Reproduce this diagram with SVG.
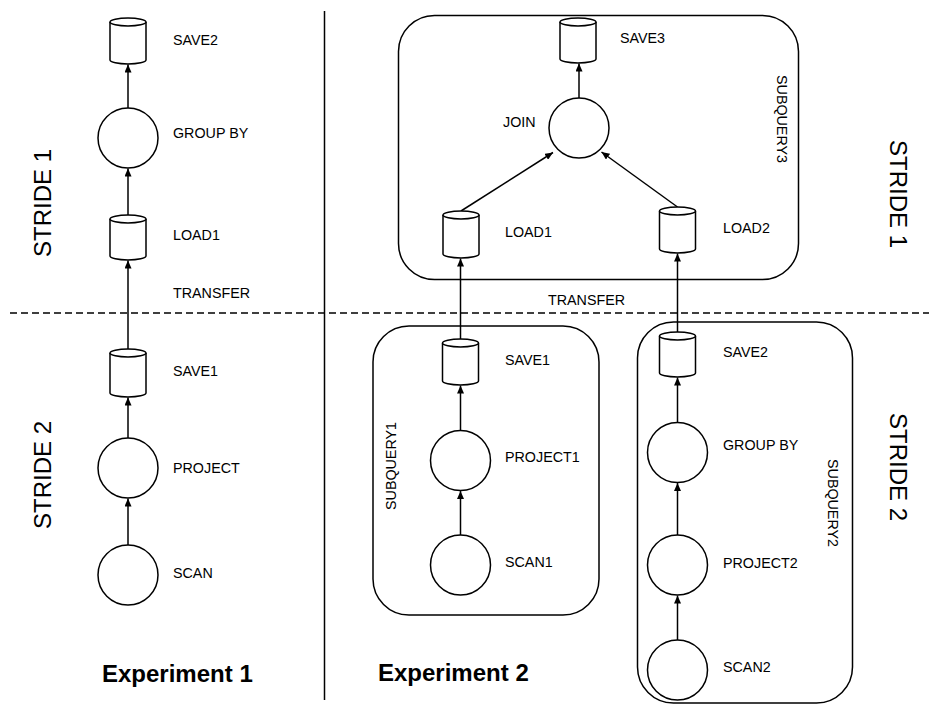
<svg xmlns="http://www.w3.org/2000/svg" width="929" height="705" viewBox="0 0 929 705">
<defs>
<marker id="ah" markerUnits="userSpaceOnUse" markerWidth="9" markerHeight="7" refX="8" refY="3.5" orient="auto">
<path d="M0,0 L8,3.5 L0,7 Z" fill="#000"/>
</marker>
<style>
.s{fill:#fff;stroke:#000;stroke-width:1.5}
.grp{fill:none;stroke:#000;stroke-width:1.5}
.e{stroke:#000;stroke-width:1.5;fill:none;marker-end:url(#ah)}
.t{font-family:"Liberation Sans",Arial,sans-serif;font-size:14.3px;fill:#000}
.big{font-family:"Liberation Sans",Arial,sans-serif;font-size:24px;fill:#000}
.ex{font-family:"Liberation Sans",Arial,sans-serif;font-size:24px;font-weight:bold;fill:#000}
</style>
</defs>
<rect width="929" height="705" fill="#fff"/>

<g id="dividers">
<line x1="324.5" y1="11" x2="324.5" y2="700" stroke="#000" stroke-width="1.5"/>
<line x1="10" y1="313" x2="929" y2="313" stroke="#000" stroke-width="1.5" stroke-dasharray="7 4"/>
</g>

<g id="stride-labels">
<text class="big" transform="translate(51,203) rotate(-90)" text-anchor="middle">STRIDE 1</text>
<text class="big" transform="translate(51,475) rotate(-90)" text-anchor="middle">STRIDE 2</text>
<text class="big" transform="translate(890,194) rotate(90)" text-anchor="middle">STRIDE 1</text>
<text class="big" transform="translate(890,467) rotate(90)" text-anchor="middle">STRIDE 2</text>
<text class="t" x="173" y="298">TRANSFER</text>
<text class="t" x="548" y="305">TRANSFER</text>
<text class="ex" x="102" y="682">Experiment 1</text>
<text class="ex" x="378" y="681">Experiment 2</text>
</g>

<g id="subquery3">
<rect class="grp" x="398.5" y="15.5" width="400" height="264" rx="36"/>
<text class="t" transform="translate(777,119) rotate(90)" text-anchor="middle">SUBQUERY3</text>
</g>
<g id="subquery1">
<rect class="grp" x="373" y="326" width="226" height="289" rx="36"/>
<text class="t" transform="translate(396,466) rotate(-90)" text-anchor="middle">SUBQUERY1</text>
</g>
<g id="subquery2">
<rect class="grp" x="637.5" y="322" width="215" height="381" rx="36"/>
<text class="t" transform="translate(828,503) rotate(90)" text-anchor="middle">SUBQUERY2</text>
</g>

<g id="connectors">
<line class="e" x1="128" y1="108" x2="128" y2="64.5"/>
<line class="e" x1="128" y1="215" x2="128" y2="168.5"/>
<line class="e" x1="128" y1="349" x2="128" y2="260.5"/>
<line class="e" x1="128" y1="438" x2="128" y2="397.5"/>
<line class="e" x1="128" y1="545" x2="128" y2="498.5"/>

<line class="e" x1="579" y1="98" x2="579" y2="63.5"/>
<line class="e" x1="461" y1="211" x2="553" y2="152.5"/>
<line class="e" x1="677.5" y1="207" x2="601.5" y2="152"/>
<line class="e" x1="460.5" y1="339" x2="460.5" y2="258.5"/>
<line class="e" x1="677.5" y1="332" x2="677.5" y2="253.5"/>
<line class="e" x1="460.5" y1="430.5" x2="460.5" y2="385.5"/>
<line class="e" x1="460.5" y1="535" x2="460.5" y2="491"/>
<line class="e" x1="677.5" y1="422.5" x2="677.5" y2="377.5"/>
<line class="e" x1="677.5" y1="535" x2="677.5" y2="483"/>
<line class="e" x1="677.5" y1="640" x2="677.5" y2="595.5"/>
</g>

<g id="e1-save2">
<path class="s" d="M110,22 L110,60 A18,4 0 0 0 146,60 L146,22"/>
<ellipse class="s" cx="128" cy="22" rx="18" ry="4"/>
<text class="t" x="173" y="45">SAVE2</text>
</g>
<g id="e1-groupby">
<circle class="s" cx="128" cy="138" r="30"/>
<text class="t" x="173" y="138">GROUP BY</text>
</g>
<g id="e1-load1">
<path class="s" d="M110,219 L110,256 A18,4 0 0 0 146,256 L146,219"/>
<ellipse class="s" cx="128" cy="219" rx="18" ry="4"/>
<text class="t" x="173" y="240">LOAD1</text>
</g>
<g id="e1-save1">
<path class="s" d="M110,353 L110,393 A18,4 0 0 0 146,393 L146,353"/>
<ellipse class="s" cx="128" cy="353" rx="18" ry="4"/>
<text class="t" x="173" y="376">SAVE1</text>
</g>
<g id="e1-project">
<circle class="s" cx="128" cy="468" r="30"/>
<text class="t" x="173" y="473">PROJECT</text>
</g>
<g id="e1-scan">
<circle class="s" cx="128" cy="575" r="30"/>
<text class="t" x="173" y="578">SCAN</text>
</g>

<g id="e2-save3">
<path class="s" d="M560,22 L560,59 A18,4 0 0 0 596,59 L596,22"/>
<ellipse class="s" cx="578" cy="22" rx="18" ry="4"/>
<text class="t" x="620" y="43">SAVE3</text>
</g>
<g id="e2-join">
<circle class="s" cx="579" cy="128" r="30"/>
<text class="t" x="503" y="127">JOIN</text>
</g>
<g id="e2-load1">
<path class="s" d="M443,215 L443,254 A18,4 0 0 0 479,254 L479,215"/>
<ellipse class="s" cx="461" cy="215" rx="18" ry="4"/>
<text class="t" x="505" y="237">LOAD1</text>
</g>
<g id="e2-load2">
<path class="s" d="M659.5,211 L659.5,249 A18,4 0 0 0 695.5,249 L695.5,211"/>
<ellipse class="s" cx="677.5" cy="211" rx="18" ry="4"/>
<text class="t" x="723" y="233">LOAD2</text>
</g>
<g id="e2-save1">
<path class="s" d="M442.5,343 L442.5,381 A18,4 0 0 0 478.5,381 L478.5,343"/>
<ellipse class="s" cx="460.5" cy="343" rx="18" ry="4"/>
<text class="t" x="505" y="365">SAVE1</text>
</g>
<g id="e2-project1">
<circle class="s" cx="460.5" cy="460.5" r="30"/>
<text class="t" x="505" y="462">PROJECT1</text>
</g>
<g id="e2-scan1">
<circle class="s" cx="460.5" cy="565" r="30"/>
<text class="t" x="505" y="567">SCAN1</text>
</g>
<g id="e2-save2">
<path class="s" d="M659.5,336 L659.5,373 A18,4 0 0 0 695.5,373 L695.5,336"/>
<ellipse class="s" cx="677.5" cy="336" rx="18" ry="4"/>
<text class="t" x="723" y="357">SAVE2</text>
</g>
<g id="e2-groupby">
<circle class="s" cx="677.5" cy="452.5" r="30"/>
<text class="t" x="723" y="450">GROUP BY</text>
</g>
<g id="e2-project2">
<circle class="s" cx="677.5" cy="565" r="30"/>
<text class="t" x="723" y="568">PROJECT2</text>
</g>
<g id="e2-scan2">
<circle class="s" cx="677.5" cy="670" r="30"/>
<text class="t" x="723" y="672">SCAN2</text>
</g>
</svg>
